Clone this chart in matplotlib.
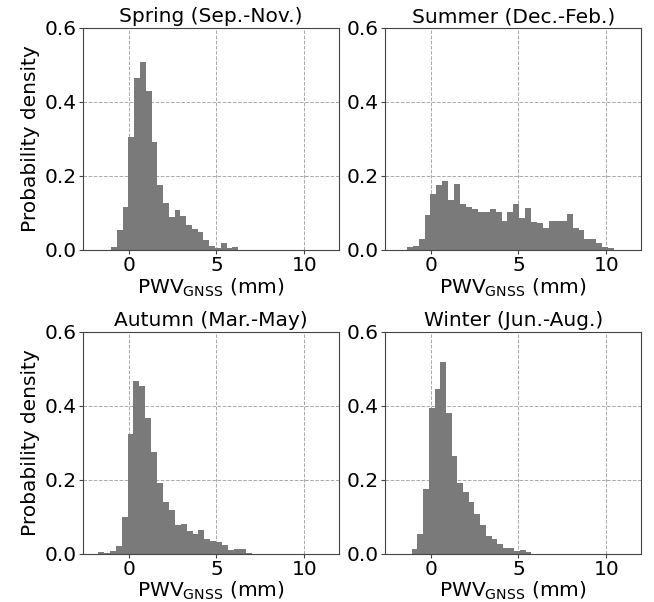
import numpy as np
import matplotlib
matplotlib.use("Agg")
import matplotlib.pyplot as plt

plt.rcParams['font.family'] = ['DejaVu Sans']
plt.rcParams['mathtext.default'] = 'regular'

titles = ["Spring (Sep.-Nov.)", "Summer (Dec.-Feb.)", "Autumn (Mar.-May)", "Winter (Jun.-Aug.)"]

# bin start (mm), bin width (mm), densities
spring_start, spring_width = -1.0, 0.329
spring_density = [0.007, 0.053, 0.116, 0.305, 0.465, 0.506, 0.429, 0.292, 0.174, 0.127,
                  0.088, 0.108, 0.092, 0.068, 0.056, 0.049, 0.025, 0.011, 0.005, 0.019,
                  0.005, 0.007]

summer_start, summer_width = -1.36, 0.3374
summer_density = [0.006, 0.010, 0.028, 0.093, 0.150, 0.174, 0.187, 0.135, 0.178, 0.124,
                  0.116, 0.110, 0.102, 0.101, 0.111, 0.101, 0.077, 0.101, 0.123, 0.086,
                  0.114, 0.075, 0.072, 0.058, 0.077, 0.078, 0.078, 0.096, 0.058, 0.054,
                  0.030, 0.028, 0.017, 0.007, 0.005]

autumn_start, autumn_width = -1.75, 0.337
autumn_density = [0.003, 0.002, 0.008, 0.021, 0.100, 0.322, 0.465, 0.454, 0.367, 0.275,
                  0.191, 0.138, 0.117, 0.076, 0.079, 0.061, 0.053, 0.063, 0.040, 0.034,
                  0.031, 0.023, 0.009, 0.013, 0.013, 0.002]

winter_start, winter_width = -1.08, 0.325
winter_density = [0.012, 0.052, 0.174, 0.392, 0.444, 0.517, 0.380, 0.263, 0.191, 0.165,
                  0.138, 0.108, 0.077, 0.047, 0.040, 0.026, 0.014, 0.014, 0.006, 0.010,
                  0.003]

x_ticks = [0, 5, 10]
y_ticks = [0.0, 0.2, 0.4, 0.6]

series = [(spring_start, spring_width, spring_density),
          (summer_start, summer_width, summer_density),
          (autumn_start, autumn_width, autumn_density),
          (winter_start, winter_width, winter_density)]

fig = plt.figure(figsize=(6.54, 6.02), dpi=100)
W, H = 654, 602
positions = [(83, 27.7), (385, 27.7), (83, 331.5), (385, 331.5)]
aw, ah = 256.3, 222
FS = 14.5

for i, ((start, width, dens), title, (px, py)) in enumerate(zip(series, titles, positions)):
    ax = fig.add_axes([px / W, 1 - (py + ah) / H, aw / W, ah / H])
    dens = np.array(dens)
    edges = start + width * np.arange(len(dens) + 1)
    ax.hist(edges[:-1], bins=edges, weights=dens, color='#7a7a7a', edgecolor='none')
    ax.set_xlim(-2.6, 12.0)
    ax.set_ylim(0, 0.6)
    ax.set_xticks(x_ticks)
    ax.set_yticks(y_ticks)
    ax.set_yticklabels([f"{v:.1f}" for v in y_ticks])
    ax.tick_params(labelsize=FS, length=3, pad=1.5, color='#444444')
    for sp in ax.spines.values():
        sp.set_color('#444444')
    ax.set_axisbelow(True)
    ax.grid(True, linestyle='--', linewidth=0.7, color='#aaaaaa')
    ax.set_title(title, fontsize=FS, pad=4)
    ax.set_xlabel(r'PWV$_{GNSS}$ (mm)', fontsize=FS, labelpad=1)
    if i % 2 == 0:
        ax.set_ylabel('Probability density', fontsize=FS, labelpad=3)

fig.savefig('out.png', dpi=100)
